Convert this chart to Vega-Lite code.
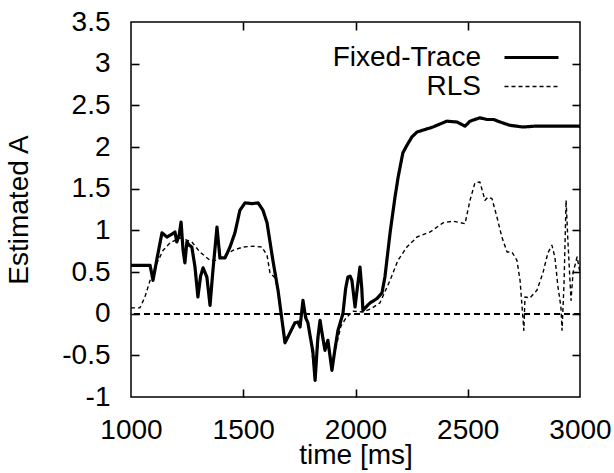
{
  "$schema": "https://vega.github.io/schema/vega-lite/v6.json",
  "width": 449,
  "height": 375,
  "autosize": {"type": "none"},
  "padding": {"left": 131, "top": 22, "right": 34, "bottom": 76},
  "background": "white",
  "config": {
    "view": {"stroke": "black", "strokeWidth": 1.5},
    "font": "Liberation Sans",
    "axis": {
      "grid": false,
      "domain": false,
      "labelColor": "black",
      "labelFontSize": 28,
      "labelFont": "Liberation Sans",
      "labelExpr": "'' + datum.value",
      "titleFontSize": 28,
      "titleFont": "Liberation Sans",
      "titleFontWeight": "normal",
      "titleColor": "black"
    },
    "legend": {
      "orient": "none",
      "legendX": 385,
      "legendY": 20,
      "symbolType": "M-2,0H2",
      "symbolSize": 729,
      "labelFontSize": 28,
      "labelFont": "Liberation Sans",
      "labelColor": "black",
      "labelAlign": "right",
      "labelOffset": -66,
      "padding": 0,
      "rowPadding": 0
    }
  },
  "data": {
    "values": [
      {"t": 1000, "A": 0.58, "series": "Fixed-Trace"},
      {"t": 1085, "A": 0.58, "series": "Fixed-Trace"},
      {"t": 1098, "A": 0.40, "series": "Fixed-Trace"},
      {"t": 1115, "A": 0.65, "series": "Fixed-Trace"},
      {"t": 1138, "A": 0.97, "series": "Fixed-Trace"},
      {"t": 1160, "A": 0.92, "series": "Fixed-Trace"},
      {"t": 1180, "A": 0.95, "series": "Fixed-Trace"},
      {"t": 1196, "A": 0.98, "series": "Fixed-Trace"},
      {"t": 1204, "A": 0.86, "series": "Fixed-Trace"},
      {"t": 1215, "A": 0.95, "series": "Fixed-Trace"},
      {"t": 1223, "A": 1.10, "series": "Fixed-Trace"},
      {"t": 1232, "A": 0.76, "series": "Fixed-Trace"},
      {"t": 1240, "A": 0.61, "series": "Fixed-Trace"},
      {"t": 1249, "A": 0.86, "series": "Fixed-Trace"},
      {"t": 1260, "A": 0.82, "series": "Fixed-Trace"},
      {"t": 1271, "A": 0.80, "series": "Fixed-Trace"},
      {"t": 1285, "A": 0.56, "series": "Fixed-Trace"},
      {"t": 1298, "A": 0.20, "series": "Fixed-Trace"},
      {"t": 1310, "A": 0.45, "series": "Fixed-Trace"},
      {"t": 1321, "A": 0.55, "series": "Fixed-Trace"},
      {"t": 1338, "A": 0.44, "series": "Fixed-Trace"},
      {"t": 1352, "A": 0.10, "series": "Fixed-Trace"},
      {"t": 1365, "A": 0.52, "series": "Fixed-Trace"},
      {"t": 1383, "A": 1.04, "series": "Fixed-Trace"},
      {"t": 1396, "A": 0.67, "series": "Fixed-Trace"},
      {"t": 1419, "A": 0.67, "series": "Fixed-Trace"},
      {"t": 1441, "A": 0.80, "series": "Fixed-Trace"},
      {"t": 1463, "A": 0.97, "series": "Fixed-Trace"},
      {"t": 1485, "A": 1.24, "series": "Fixed-Trace"},
      {"t": 1508, "A": 1.33, "series": "Fixed-Trace"},
      {"t": 1540, "A": 1.32, "series": "Fixed-Trace"},
      {"t": 1566, "A": 1.33, "series": "Fixed-Trace"},
      {"t": 1588, "A": 1.24, "series": "Fixed-Trace"},
      {"t": 1606, "A": 1.09, "series": "Fixed-Trace"},
      {"t": 1632, "A": 0.64, "series": "Fixed-Trace"},
      {"t": 1655, "A": 0.28, "series": "Fixed-Trace"},
      {"t": 1686, "A": -0.35, "series": "Fixed-Trace"},
      {"t": 1708, "A": -0.23, "series": "Fixed-Trace"},
      {"t": 1730, "A": -0.11, "series": "Fixed-Trace"},
      {"t": 1745, "A": -0.10, "series": "Fixed-Trace"},
      {"t": 1753, "A": -0.16, "series": "Fixed-Trace"},
      {"t": 1766, "A": 0.16, "series": "Fixed-Trace"},
      {"t": 1778, "A": -0.05, "series": "Fixed-Trace"},
      {"t": 1788, "A": -0.11, "series": "Fixed-Trace"},
      {"t": 1800, "A": -0.30, "series": "Fixed-Trace"},
      {"t": 1810, "A": -0.45, "series": "Fixed-Trace"},
      {"t": 1820, "A": -0.80, "series": "Fixed-Trace"},
      {"t": 1832, "A": -0.30, "series": "Fixed-Trace"},
      {"t": 1842, "A": -0.08, "series": "Fixed-Trace"},
      {"t": 1855, "A": -0.30, "series": "Fixed-Trace"},
      {"t": 1864, "A": -0.44, "series": "Fixed-Trace"},
      {"t": 1877, "A": -0.32, "series": "Fixed-Trace"},
      {"t": 1895, "A": -0.68, "series": "Fixed-Trace"},
      {"t": 1910, "A": -0.40, "series": "Fixed-Trace"},
      {"t": 1922, "A": -0.20, "series": "Fixed-Trace"},
      {"t": 1944, "A": 0.00, "series": "Fixed-Trace"},
      {"t": 1956, "A": 0.30, "series": "Fixed-Trace"},
      {"t": 1966, "A": 0.44, "series": "Fixed-Trace"},
      {"t": 1976, "A": 0.45, "series": "Fixed-Trace"},
      {"t": 1984, "A": 0.40, "series": "Fixed-Trace"},
      {"t": 1998, "A": 0.08, "series": "Fixed-Trace"},
      {"t": 2010, "A": 0.35, "series": "Fixed-Trace"},
      {"t": 2020, "A": 0.56, "series": "Fixed-Trace"},
      {"t": 2028, "A": 0.30, "series": "Fixed-Trace"},
      {"t": 2033, "A": 0.04, "series": "Fixed-Trace"},
      {"t": 2065, "A": 0.13, "series": "Fixed-Trace"},
      {"t": 2095, "A": 0.18, "series": "Fixed-Trace"},
      {"t": 2118, "A": 0.25, "series": "Fixed-Trace"},
      {"t": 2131, "A": 0.44, "series": "Fixed-Trace"},
      {"t": 2154, "A": 0.97, "series": "Fixed-Trace"},
      {"t": 2176, "A": 1.40, "series": "Fixed-Trace"},
      {"t": 2190, "A": 1.64, "series": "Fixed-Trace"},
      {"t": 2211, "A": 1.93, "series": "Fixed-Trace"},
      {"t": 2229, "A": 2.02, "series": "Fixed-Trace"},
      {"t": 2251, "A": 2.12, "series": "Fixed-Trace"},
      {"t": 2274, "A": 2.18, "series": "Fixed-Trace"},
      {"t": 2310, "A": 2.21, "series": "Fixed-Trace"},
      {"t": 2345, "A": 2.24, "series": "Fixed-Trace"},
      {"t": 2380, "A": 2.28, "series": "Fixed-Trace"},
      {"t": 2407, "A": 2.31, "series": "Fixed-Trace"},
      {"t": 2452, "A": 2.30, "series": "Fixed-Trace"},
      {"t": 2488, "A": 2.25, "series": "Fixed-Trace"},
      {"t": 2510, "A": 2.31, "series": "Fixed-Trace"},
      {"t": 2554, "A": 2.35, "series": "Fixed-Trace"},
      {"t": 2586, "A": 2.33, "series": "Fixed-Trace"},
      {"t": 2615, "A": 2.33, "series": "Fixed-Trace"},
      {"t": 2644, "A": 2.30, "series": "Fixed-Trace"},
      {"t": 2688, "A": 2.26, "series": "Fixed-Trace"},
      {"t": 2746, "A": 2.24, "series": "Fixed-Trace"},
      {"t": 2800, "A": 2.25, "series": "Fixed-Trace"},
      {"t": 2900, "A": 2.25, "series": "Fixed-Trace"},
      {"t": 3000, "A": 2.25, "series": "Fixed-Trace"},
      {"t": 1000, "A": 0.07, "series": "RLS"},
      {"t": 1040, "A": 0.07, "series": "RLS"},
      {"t": 1062, "A": 0.20, "series": "RLS"},
      {"t": 1085, "A": 0.40, "series": "RLS"},
      {"t": 1116, "A": 0.61, "series": "RLS"},
      {"t": 1143, "A": 0.76, "series": "RLS"},
      {"t": 1174, "A": 0.85, "series": "RLS"},
      {"t": 1218, "A": 0.91, "series": "RLS"},
      {"t": 1271, "A": 0.86, "series": "RLS"},
      {"t": 1307, "A": 0.74, "series": "RLS"},
      {"t": 1352, "A": 0.64, "series": "RLS"},
      {"t": 1383, "A": 0.64, "series": "RLS"},
      {"t": 1419, "A": 0.70, "series": "RLS"},
      {"t": 1454, "A": 0.76, "series": "RLS"},
      {"t": 1499, "A": 0.80, "series": "RLS"},
      {"t": 1543, "A": 0.81, "series": "RLS"},
      {"t": 1583, "A": 0.80, "series": "RLS"},
      {"t": 1606, "A": 0.70, "series": "RLS"},
      {"t": 1619, "A": 0.49, "series": "RLS"},
      {"t": 1641, "A": 0.43, "series": "RLS"},
      {"t": 1655, "A": 0.28, "series": "RLS"},
      {"t": 1686, "A": -0.33, "series": "RLS"},
      {"t": 1708, "A": -0.22, "series": "RLS"},
      {"t": 1730, "A": -0.12, "series": "RLS"},
      {"t": 1753, "A": -0.14, "series": "RLS"},
      {"t": 1766, "A": 0.12, "series": "RLS"},
      {"t": 1788, "A": -0.10, "series": "RLS"},
      {"t": 1820, "A": -0.75, "series": "RLS"},
      {"t": 1842, "A": -0.10, "series": "RLS"},
      {"t": 1864, "A": -0.42, "series": "RLS"},
      {"t": 1877, "A": -0.32, "series": "RLS"},
      {"t": 1895, "A": -0.62, "series": "RLS"},
      {"t": 1922, "A": -0.30, "series": "RLS"},
      {"t": 1935, "A": -0.15, "series": "RLS"},
      {"t": 1958, "A": -0.05, "series": "RLS"},
      {"t": 1990, "A": 0.03, "series": "RLS"},
      {"t": 2033, "A": 0.02, "series": "RLS"},
      {"t": 2070, "A": 0.06, "series": "RLS"},
      {"t": 2109, "A": 0.13, "series": "RLS"},
      {"t": 2154, "A": 0.40, "series": "RLS"},
      {"t": 2189, "A": 0.64, "series": "RLS"},
      {"t": 2229, "A": 0.80, "series": "RLS"},
      {"t": 2274, "A": 0.92, "series": "RLS"},
      {"t": 2332, "A": 0.98, "series": "RLS"},
      {"t": 2390, "A": 1.09, "series": "RLS"},
      {"t": 2434, "A": 1.11, "series": "RLS"},
      {"t": 2488, "A": 1.08, "series": "RLS"},
      {"t": 2510, "A": 1.36, "series": "RLS"},
      {"t": 2532, "A": 1.57, "series": "RLS"},
      {"t": 2554, "A": 1.58, "series": "RLS"},
      {"t": 2577, "A": 1.36, "series": "RLS"},
      {"t": 2590, "A": 1.40, "series": "RLS"},
      {"t": 2608, "A": 1.38, "series": "RLS"},
      {"t": 2630, "A": 1.16, "series": "RLS"},
      {"t": 2652, "A": 0.92, "series": "RLS"},
      {"t": 2675, "A": 0.74, "series": "RLS"},
      {"t": 2697, "A": 0.74, "series": "RLS"},
      {"t": 2719, "A": 0.64, "series": "RLS"},
      {"t": 2733, "A": 0.40, "series": "RLS"},
      {"t": 2742, "A": 0.08, "series": "RLS"},
      {"t": 2750, "A": -0.20, "series": "RLS"},
      {"t": 2755, "A": 0.20, "series": "RLS"},
      {"t": 2777, "A": 0.19, "series": "RLS"},
      {"t": 2808, "A": 0.28, "series": "RLS"},
      {"t": 2835, "A": 0.49, "series": "RLS"},
      {"t": 2857, "A": 0.73, "series": "RLS"},
      {"t": 2875, "A": 0.82, "series": "RLS"},
      {"t": 2888, "A": 0.68, "series": "RLS"},
      {"t": 2902, "A": 0.32, "series": "RLS"},
      {"t": 2915, "A": 0.08, "series": "RLS"},
      {"t": 2920, "A": -0.20, "series": "RLS"},
      {"t": 2929, "A": 0.37, "series": "RLS"},
      {"t": 2938, "A": 1.36, "series": "RLS"},
      {"t": 2946, "A": 0.88, "series": "RLS"},
      {"t": 2960, "A": 0.16, "series": "RLS"},
      {"t": 2969, "A": 0.49, "series": "RLS"},
      {"t": 2987, "A": 0.68, "series": "RLS"},
      {"t": 3000, "A": 0.49, "series": "RLS"}
    ]
  },
  "layer": [
    {
      "mark": {"type": "line", "strokeJoin": "round", "clip": true},
      "encoding": {
        "x": {
          "field": "t", "type": "quantitative",
          "scale": {"domain": [1000, 3000], "nice": false, "zero": false},
          "axis": {"values": [1000, 1500, 2000, 2500, 3000], "title": "time [ms]", "ticks": false, "labelPadding": 19, "titlePadding": -3, "labelFlush": false}
        },
        "y": {
          "field": "A", "type": "quantitative",
          "scale": {"domain": [-1, 3.5], "nice": false, "zero": false},
          "axis": {"values": [-1, -0.5, 0, 0.5, 1, 1.5, 2, 2.5, 3, 3.5], "title": "Estimated A", "ticks": false, "labelPadding": 21, "titlePadding": 28}
        },
        "color": {"field": "series", "type": "nominal", "scale": {"range": ["black", "black"]}, "legend": {"title": null}},
        "strokeDash": {"field": "series", "type": "nominal", "scale": {"range": [[1, 0], [4, 3]]}, "legend": {"title": null}},
        "strokeWidth": {"field": "series", "type": "nominal", "scale": {"range": [3.2, 1.4]}, "legend": {"title": null}}
      }
    },
    {
      "mark": {"type": "line", "opacity": 0},
      "encoding": {
        "x": {"field": "t", "type": "quantitative", "axis": {"orient": "top", "offset": -375, "values": [1500, 2000, 2500], "labels": false, "title": null, "ticks": true, "tickColor": "black", "tickSize": 8, "tickWidth": 1.6}},
        "y": {"field": "A", "type": "quantitative", "axis": {"orient": "right", "offset": -449, "values": [-0.5, 0, 0.5, 1, 1.5, 2, 2.5, 3], "labels": false, "title": null, "ticks": true, "tickColor": "black", "tickSize": 8, "tickWidth": 1.6}}
      }
    },
    {
      "mark": {"type": "line", "opacity": 0},
      "encoding": {
        "x": {"field": "t", "type": "quantitative", "axis": {"orient": "bottom", "offset": -375, "values": [1500, 2000, 2500], "labels": false, "title": null, "ticks": true, "tickColor": "black", "tickSize": 8, "tickWidth": 1.6}},
        "y": {"field": "A", "type": "quantitative", "axis": {"orient": "left", "offset": -449, "values": [-0.5, 0, 0.5, 1, 1.5, 2, 2.5, 3], "labels": false, "title": null, "ticks": true, "tickColor": "black", "tickSize": 8, "tickWidth": 1.6}}
      }
    },
    {
      "mark": {"type": "rule", "strokeDash": [6, 4], "strokeWidth": 1.4, "color": "black"},
      "encoding": {"y": {"datum": 0, "type": "quantitative", "axis": null}}
    }
  ],
  "resolve": {"axis": {"x": "independent", "y": "independent"}}
}
